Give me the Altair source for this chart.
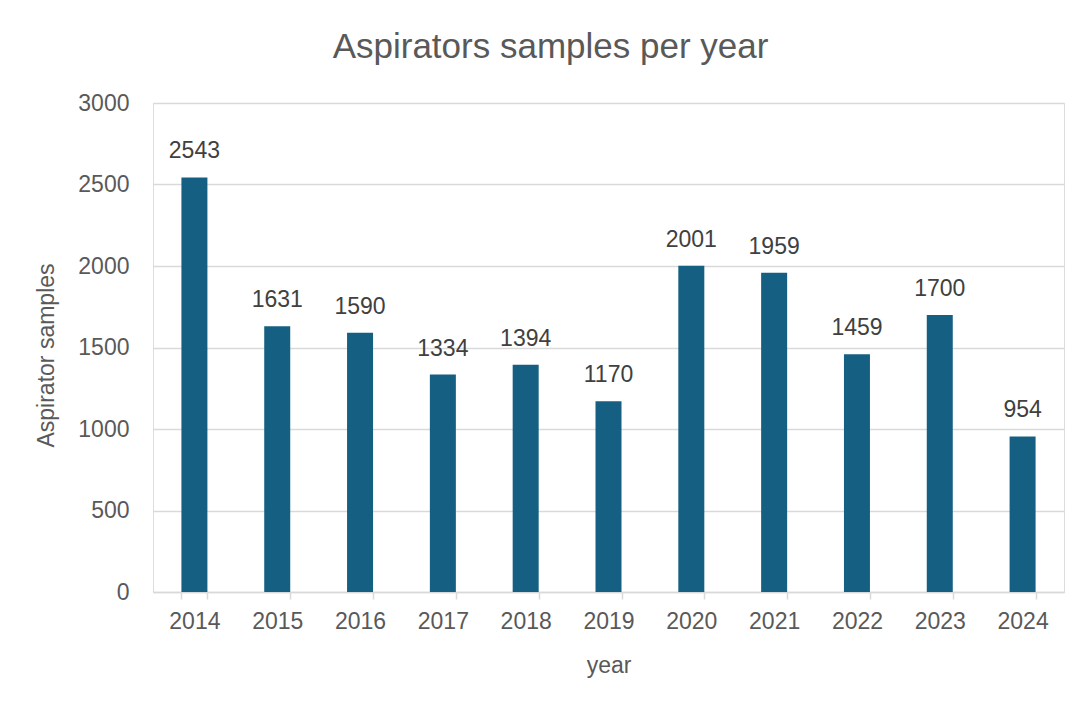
import altair as alt
import pandas as pd

years = ["2014", "2015", "2016", "2017", "2018", "2019", "2020", "2021", "2022", "2023", "2024"]
samples = [2543, 1631, 1590, 1334, 1394, 1170, 2001, 1959, 1459, 1700, 954]

df = pd.DataFrame({"year": years, "samples": samples})

FONT = "Liberation Sans"
GRAY = "#595959"

x = alt.X(
    "year:O",
    sort=years,
    title="year",
    scale=alt.Scale(paddingInner=0.686, paddingOuter=0.343),
    axis=alt.Axis(
        labelAngle=0,
        labelFont=FONT,
        labelFontSize=23,
        labelColor=GRAY,
        labelPadding=11,
        domainColor="#d9d9d9",
        domainWidth=1.5,
        tickColor="#d9d9d9",
        tickWidth=1.5,
        tickSize=7,
        tickBand="extent",
        titleFont=FONT,
        titleFontSize=23,
        titleFontWeight="normal",
        titleColor=GRAY,
        titleBaseline="alphabetic",
        titleY=80,
    ),
)

y = alt.Y(
    "samples:Q",
    title="Aspirator samples",
    scale=alt.Scale(domain=[0, 3000], nice=False),
    axis=alt.Axis(
        values=[0, 500, 1000, 1500, 2000, 2500, 3000],
        format="d",
        labelFont=FONT,
        labelFontSize=23,
        labelColor=GRAY,
        labelPadding=24,
        domain=False,
        ticks=False,
        grid=True,
        gridColor="#d9d9d9",
        gridWidth=1.3,
        titleFont=FONT,
        titleFontSize=23,
        titleFontWeight="normal",
        titleColor=GRAY,
        titleAngle=-90,
        titleAlign="center",
        titleBaseline="middle",
        titleX=-107,
        titleY=252,
    ),
)

base = alt.Chart(df)

bars = base.mark_bar(color="#156082").encode(x=x, y=y)

labels = base.mark_text(
    font=FONT, fontSize=23, color="#404040", baseline="alphabetic", dy=-19
).encode(x=alt.X("year:O", sort=years), y=alt.Y("samples:Q"), text=alt.Text("samples:Q"))

chart = (
    alt.layer(bars, labels)
    .properties(
        width=911,
        height=489,
        autosize=alt.AutoSizeParams(type="none"),
        padding={"left": 145, "top": 95, "right": 8, "bottom": 99},
        title=alt.TitleParams(
            "Aspirators samples per year",
            font=FONT,
            fontSize=35,
            fontWeight="normal",
            color=GRAY,
            anchor="middle",
            baseline="alphabetic",
            offset=-1,
            dx=-58,
        ),
    )
    .configure_view(stroke=None)
    .configure(background="white")
)

chart.save("out.html", embed_options={"renderer": "svg", "actions": False})
